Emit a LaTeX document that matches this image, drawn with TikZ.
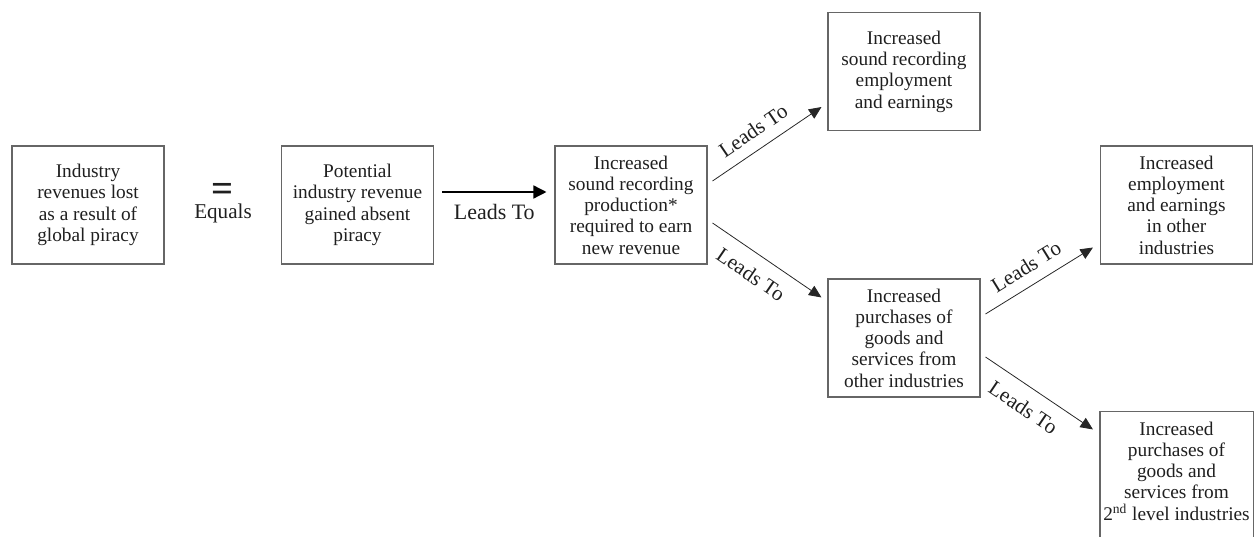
\documentclass[tikz,border=0pt]{standalone}
\usepackage{fontspec}
\setmainfont{Liberation Serif}
\usetikzlibrary{arrows.meta}

\tikzset{
  effbox/.style={draw=black!60, line width=0.6pt, text=black!88, align=center,
    minimum width=3.04cm, minimum height=2.36cm, inner sep=0pt,
    font=\fontsize{11}{12.1}\selectfont},
  leadsarrow/.style={draw=black!85, line width=0.45pt,
    -{Triangle[length=0.25cm,width=0.22cm]}},
  mainarrow/.style={draw=black, line width=0.8pt,
    -{Triangle[length=0.26cm,width=0.26cm]}},
  leadslabel/.style={sloped, text=black!88, font=\fontsize{12}{12}\selectfont}
}

\begin{document}
\begin{tikzpicture}
	%%%%% START %%%%%
	\useasboundingbox (0, 0) rectangle (25.08, 10.74);
	
	% first row: loss = gain
	\node[effbox] (lost) at (1.76, 6.64) {Industry\\revenues lost\\as a result of\\global piracy};
	\node[text=black!88, font=\fontsize{22}{22}\selectfont\bfseries] (eqsign) at (4.46, 6.90) {=};
	\node[text=black!88, font=\fontsize{12}{12}\selectfont] (eqtext) at (4.46, 6.48) {Equals};
	\node[effbox] (gain) at (7.15, 6.64) {Potential\\industry revenue\\gained absent\\piracy};
	\node[effbox] (prod) at (12.62, 6.64) {Increased\\sound recording\\production*\\required to earn\\new revenue};
	
	% direct and indirect effects
	\node[effbox] (soundjobs) at (18.08, 9.31) {Increased\\sound recording\\employment\\and earnings};
	\node[effbox] (purch) at (18.08, 3.98) {Increased\\purchases of\\goods and\\services from\\other industries};
	\node[effbox] (otherjobs) at (23.53, 6.64) {Increased\\employment\\and earnings\\in other\\industries};
	\node[effbox, draw=none] (purch2) at (23.53, 1.32) {Increased\\purchases of\\goods and\\services from\\2\textsuperscript{nd} level industries};
	\draw[black!60, line width=0.6pt] ([yshift=-1cm]purch2.south west) |- (purch2.north east) -- ([yshift=-1cm]purch2.south east);
	
	% arrows
	\draw[mainarrow] ([shift={(0.16, 0.26)}]gain.east) -- ([shift={(-0.16, 0.26)}]prod.west)
		node[midway, below=3pt, text=black!88, font=\fontsize{12.5}{12.5}\selectfont] {Leads To};
	
	\draw[leadsarrow] ([shift={(0.1, 0.48)}]prod.east) -- ([shift={(-0.12, 0.48)}]soundjobs.south west)
		node[leadslabel, pos=0.47, above=3pt] {Leads To};
	\draw[leadsarrow] ([shift={(0.1, -0.36)}]prod.east) -- ([shift={(-0.12, -0.38)}]purch.north west)
		node[leadslabel, pos=0.46, below=4pt] {Leads To};
	\draw[leadsarrow] ([shift={(0.1, 0.48)}]purch.east) -- ([shift={(-0.14, 0.34)}]otherjobs.south west)
		node[leadslabel, pos=0.47, above=3pt] {Leads To};
	\draw[leadsarrow] ([shift={(0.1, -0.38)}]purch.east) -- ([shift={(-0.14, -0.36)}]purch2.north west)
		node[leadslabel, pos=0.46, below=4pt] {Leads To};
	
	%%%%% END %%%%%
\end{tikzpicture}
\end{document}
